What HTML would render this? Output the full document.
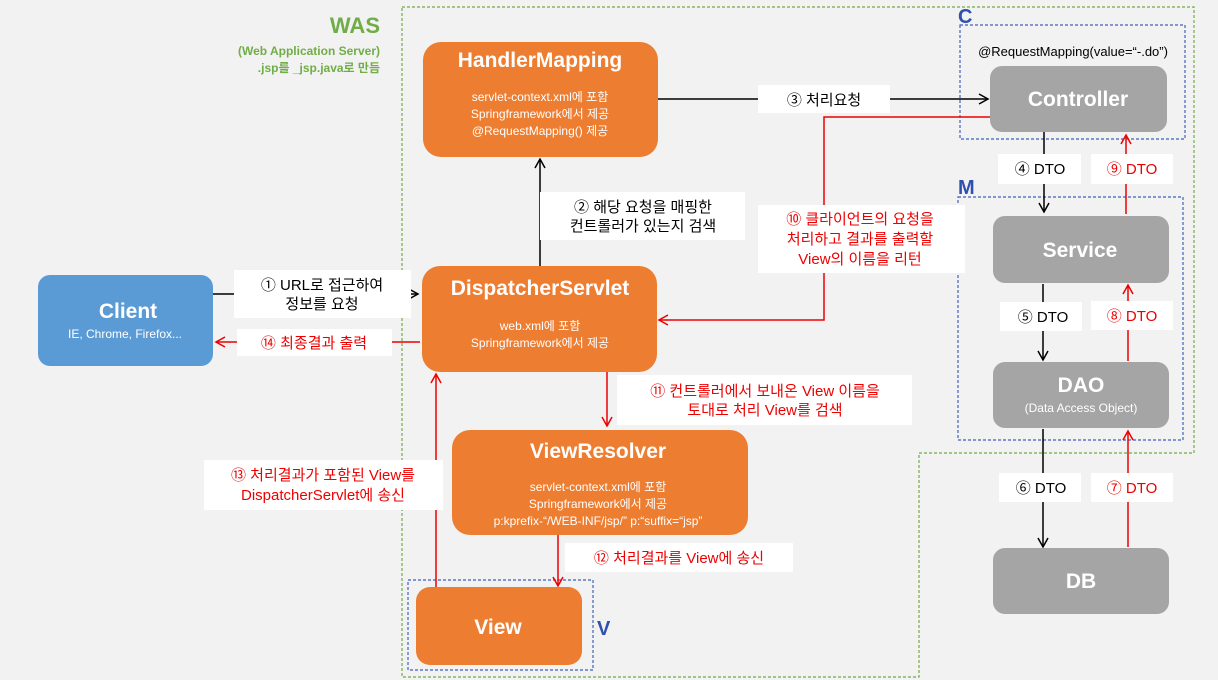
<!DOCTYPE html>
<html><head><meta charset="utf-8"><style>
html,body{margin:0;padding:0;background:#f2f2f2;}
svg{display:block;font-family:"Liberation Sans","Noto Sans CJK KR",sans-serif;}
</style></head><body>
<svg width="1218" height="680" viewBox="0 0 1218 680" xmlns="http://www.w3.org/2000/svg">
<defs>
<marker id="ab" markerWidth="12" markerHeight="12" refX="10" refY="6" orient="auto" markerUnits="userSpaceOnUse"><path d="M1,1 L10,6 L1,11" fill="none" stroke="#000" stroke-width="1.5"/></marker>
<marker id="ar" markerWidth="12" markerHeight="12" refX="10" refY="6" orient="auto" markerUnits="userSpaceOnUse"><path d="M1,1 L10,6 L1,11" fill="none" stroke="#e00" stroke-width="1.5"/></marker>
</defs>
<rect width="1218" height="680" fill="#f2f2f2"/>
<!-- WAS border -->
<path d="M402,7 H1194 V453 H919 V677 H402 Z" fill="none" stroke="#70ad47" stroke-width="1.2" stroke-dasharray="3,2"/>
<text x="380" y="33" text-anchor="end" font-size="22" font-weight="bold" fill="#70ad47">WAS</text>
<text x="380" y="55" text-anchor="end" font-size="12" font-weight="bold" fill="#70ad47">(Web Application Server)</text>
<text x="380" y="72" text-anchor="end" font-size="12" font-weight="bold" fill="#70ad47">.jsp를 _jsp.java로 만듬</text>
<!-- C, M, V boxes -->
<rect x="960" y="25" width="225" height="114" fill="none" stroke="#4060c0" stroke-width="1.2" stroke-dasharray="3,2"/>
<text x="958" y="23" font-size="20" font-weight="bold" fill="#3050b0">C</text>
<rect x="958" y="197" width="225" height="243" fill="none" stroke="#4060c0" stroke-width="1.2" stroke-dasharray="3,2"/>
<text x="958" y="194" font-size="20" font-weight="bold" fill="#3050b0">M</text>
<rect x="408" y="580" width="185" height="90" fill="none" stroke="#4060c0" stroke-width="1.2" stroke-dasharray="3,2"/>
<text x="597" y="635" font-size="20" font-weight="bold" fill="#3050b0">V</text>
<text x="1073" y="56" text-anchor="middle" font-size="13" fill="#000">@RequestMapping(value=“-.do”)</text>
<!-- lines -->
<g stroke-width="1.5" fill="none">
<line x1="645" y1="99" x2="988" y2="99" stroke="#000" marker-end="url(#ab)"/>
<line x1="540" y1="266" x2="540" y2="159" stroke="#000" marker-end="url(#ab)"/>
<line x1="213" y1="294" x2="418" y2="294" stroke="#000" marker-end="url(#ab)"/>
<line x1="420" y1="342" x2="216" y2="342" stroke="#e00" marker-end="url(#ar)"/>
<path d="M990,117 H824 V320 H659" stroke="#e00" marker-end="url(#ar)"/>
<line x1="607" y1="372" x2="607" y2="426" stroke="#e00" marker-end="url(#ar)"/>
<line x1="558" y1="535" x2="558" y2="586" stroke="#e00" marker-end="url(#ar)"/>
<line x1="436" y1="587" x2="436" y2="374" stroke="#e00" marker-end="url(#ar)"/>
<line x1="1044" y1="132" x2="1044" y2="212" stroke="#000" marker-end="url(#ab)"/>
<line x1="1126" y1="214" x2="1126" y2="135" stroke="#e00" marker-end="url(#ar)"/>
<line x1="1043" y1="284" x2="1043" y2="360" stroke="#000" marker-end="url(#ab)"/>
<line x1="1128" y1="361" x2="1128" y2="285" stroke="#e00" marker-end="url(#ar)"/>
<line x1="1043" y1="429" x2="1043" y2="547" stroke="#000" marker-end="url(#ab)"/>
<line x1="1128" y1="547" x2="1128" y2="431" stroke="#e00" marker-end="url(#ar)"/>
</g>
<!-- nodes -->
<rect x="423" y="42" width="235" height="115" rx="18" fill="#ed7d31"/>
<text x="540" y="67" text-anchor="middle" font-size="21" font-weight="bold" fill="#fff">HandlerMapping</text>
<g font-size="12" fill="#fff" text-anchor="middle"><text x="540" y="101">servlet-context.xml에 포함</text><text x="540" y="118">Springframework에서 제공</text><text x="540" y="135">@RequestMapping() 제공</text></g>
<rect x="422" y="266" width="235" height="106" rx="18" fill="#ed7d31"/>
<text x="540" y="295" text-anchor="middle" font-size="21" font-weight="bold" fill="#fff">DispatcherServlet</text>
<g font-size="12" fill="#fff" text-anchor="middle"><text x="540" y="330">web.xml에 포함</text><text x="540" y="347">Springframework에서 제공</text></g>
<rect x="452" y="430" width="296" height="105" rx="18" fill="#ed7d31"/>
<text x="598" y="458" text-anchor="middle" font-size="21" font-weight="bold" fill="#fff">ViewResolver</text>
<g font-size="12" fill="#fff" text-anchor="middle"><text x="598" y="491">servlet-context.xml에 포함</text><text x="598" y="508">Springframework에서 제공</text><text x="598" y="525">p:kprefix-“/WEB-INF/jsp/”  p:“suffix=“jsp”</text></g>
<rect x="416" y="587" width="166" height="78" rx="14" fill="#ed7d31"/>
<text x="498" y="634" text-anchor="middle" font-size="21" font-weight="bold" fill="#fff">View</text>
<rect x="38" y="275" width="175" height="91" rx="12" fill="#5b9bd5"/>
<text x="128" y="318" text-anchor="middle" font-size="21" font-weight="bold" fill="#fff">Client</text>
<text x="125" y="338" text-anchor="middle" font-size="12" fill="#fff">IE, Chrome, Firefox...</text>
<g fill="#a5a5a5"><rect x="990" y="66" width="177" height="66" rx="12"/><rect x="993" y="216" width="176" height="67" rx="12"/><rect x="993" y="362" width="176" height="66" rx="12"/><rect x="993" y="548" width="176" height="66" rx="12"/></g>
<g fill="#fff" font-weight="bold" font-size="21" text-anchor="middle"><text x="1078" y="106">Controller</text><text x="1080" y="257">Service</text><text x="1081" y="392">DAO</text><text x="1081" y="588">DB</text></g>
<text x="1081" y="412" text-anchor="middle" font-size="12" fill="#fff">(Data Access Object)</text>
<!-- labels -->
<g fill="#fff">
<rect x="234" y="270" width="177" height="48"/><rect x="237" y="329" width="155" height="27"/>
<rect x="540" y="192" width="205" height="48"/><rect x="758" y="85" width="132" height="28"/>
<rect x="758" y="205" width="207" height="68"/>
<rect x="998" y="154" width="83" height="30"/><rect x="1091" y="154" width="82" height="30"/>
<rect x="1000" y="302" width="82" height="29"/><rect x="1091" y="301" width="82" height="29"/>
<rect x="999" y="473" width="82" height="29"/><rect x="1091" y="473" width="82" height="29"/>
<rect x="617" y="375" width="295" height="50"/><rect x="204" y="460" width="239" height="50"/>
<rect x="565" y="543" width="228" height="29"/>
</g>
<g font-size="15" text-anchor="middle" fill="#000">
<text x="322" y="290">① URL로 접근하여</text><text x="322" y="309">정보를 요청</text>
<text x="643" y="212">② 해당 요청을 매핑한</text><text x="643" y="231">컨트롤러가 있는지 검색</text>
<text x="824" y="105">③ 처리요청</text>
<text x="1040" y="174">④  DTO</text><text x="1043" y="322">⑤  DTO</text><text x="1041" y="493">⑥  DTO</text>
</g>
<g font-size="15" text-anchor="middle" fill="#e00">
<text x="314" y="348">⑭ 최종결과 출력</text>
<text x="860" y="224">⑩ 클라이언트의 요청을</text><text x="860" y="244">처리하고 결과를 출력할</text><text x="860" y="264">View의 이름을 리턴</text>
<text x="1132" y="174">⑨  DTO</text><text x="1132" y="321">⑧  DTO</text><text x="1132" y="493">⑦  DTO</text>
<text x="765" y="396">⑪ 컨트롤러에서 보내온 View 이름을</text><text x="765" y="415">토대로 처리 View를 검색</text>
<text x="323" y="480">⑬ 처리결과가 포함된 View를</text><text x="323" y="500">DispatcherServlet에 송신</text>
<text x="679" y="563">⑫ 처리결과를 View에 송신</text>
</g>
</svg>
</body></html>
